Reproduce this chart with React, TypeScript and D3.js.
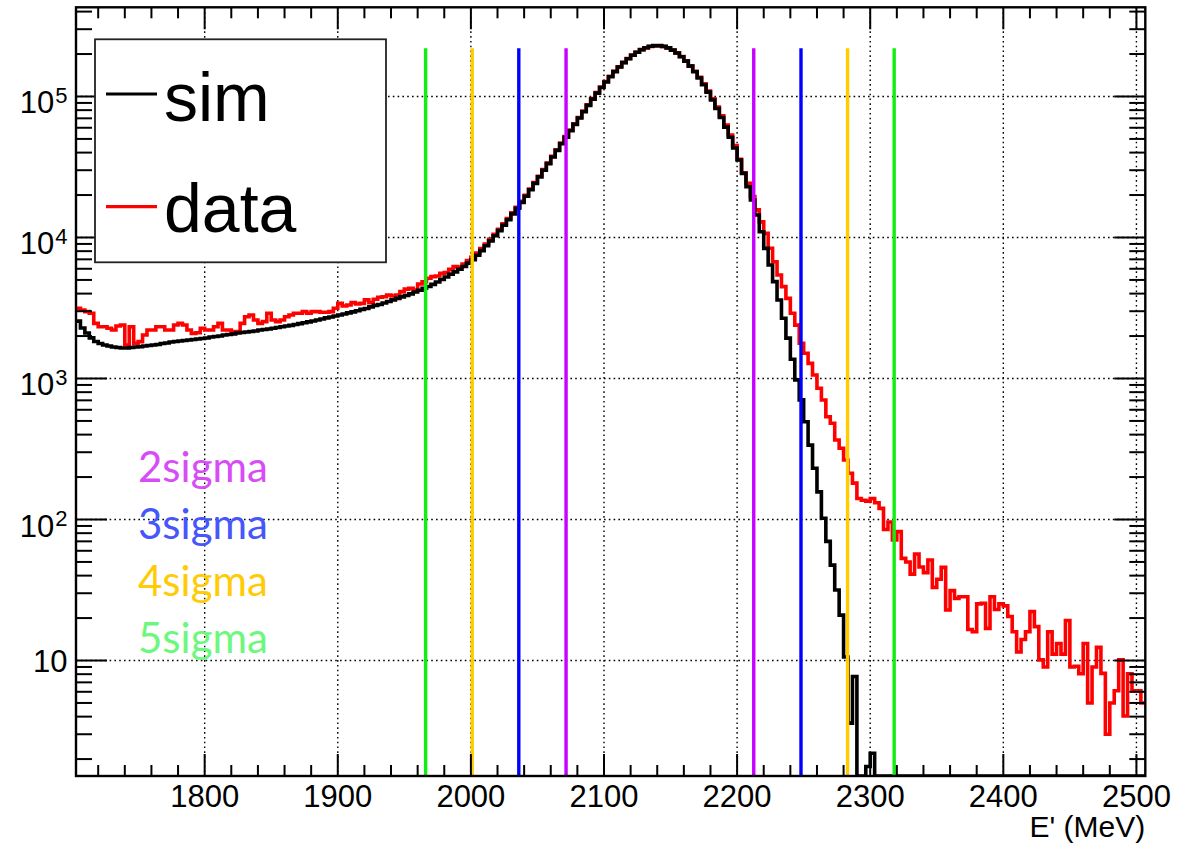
import React from 'react';
import * as d3 from 'd3';

// ---- data -------------------------------------------------------------
const X_MIN = 1703.3333;
const X_MAX = 2506.6667;
const BIN_WIDTH = 10 / 3;
const Y_MIN = 1.517;
const Y_MAX = 4.29e5;

const simValues: number[] = [
  2550, 2280, 2100, 1940, 1830, 1770, 1728, 1700, 1672, 1660,
  1645, 1645, 1660, 1672, 1680, 1700, 1715, 1728, 1743, 1770,
  1785, 1815, 1830, 1845, 1860, 1875, 1890, 1905, 1920, 1937,
  1970, 1985, 2000, 2036, 2050, 2070, 2100, 2120, 2135, 2155,
  2170, 2210, 2225, 2245, 2270, 2300, 2330, 2355, 2380, 2415,
  2450, 2485, 2520, 2560, 2600, 2645, 2690, 2730, 2775, 2820,
  2865, 2920, 2970, 3020, 3090, 3140, 3220, 3300, 3350, 3430,
  3520, 3610, 3700, 3790, 3880, 3980, 4110, 4220, 4360, 4490,
  4650, 4840, 5040, 5250, 5480, 5700, 5950, 6230, 6580, 6950,
  7480, 8070, 8730, 9460, 10280, 11190, 12220, 13370, 14660, 16110,
  17740, 19630, 21780, 24210, 26920, 29990, 33420, 37240, 41500, 46240,
  51400, 57150, 63390, 70310, 77980, 86500, 95720, 105700, 115900, 126800,
  138000, 150000, 161800, 173800, 185400, 196300, 206100, 214800, 221800, 227000,
  229600, 229600, 226500, 221300, 213300, 203200, 191400, 178200, 164100, 149600,
  135200, 121100, 107400, 94410, 82220, 70960, 60670, 51400, 43150, 35480,
  28510, 22910, 18450, 14450, 10990, 8375, 6383, 4864, 3606, 2673,
  1932, 1368, 977, 705, 494, 337, 231, 157, 102, 70,
  47.5, 31.6, 21, 10.6, 3.6, 7.7, 0, 0, 1.77, 2.2,
  0, 0, 0, 0, 0, 0, 0, 0, 0, 0,
  0, 0, 0, 0, 0, 0, 0, 0, 0, 0,
  0, 0, 0, 0, 0, 0, 0, 0, 0, 0,
  0, 0, 0, 0, 0, 0, 0, 0, 0, 0,
  0, 0, 0, 0, 0, 0, 0, 0, 0, 0,
  0, 0, 0, 0, 0, 0, 0, 0, 0, 0,
  0,
];

const dataValues: number[] = [
  3150, 3060, 2980, 2900, 2460, 2330, 2330, 2270, 2210, 2355,
  2395, 1730, 2330, 1780, 1825, 2035, 2210, 2210, 2330, 2330,
  2210, 2210, 2395, 2460, 2395, 2210, 2090, 2110, 2270, 2210,
  2210, 2330, 2460, 2210, 2210, 2150, 2150, 2460, 2740, 2820,
  2600, 2460, 2530, 2900, 2600, 2530, 2600, 2740, 2820, 2900,
  2900, 2980, 2900, 2980, 2980, 2950, 2950, 2980, 3150, 3410,
  3265, 3320, 3450, 3375, 3410, 3610, 3450, 3650, 3770, 3800,
  3910, 3850, 3910, 4130, 4300, 4360, 4245, 4680, 4860, 5140,
  5280, 5330, 5570, 5630, 5950, 6210, 6150, 6480, 6850, 7240,
  7750, 8350, 9000, 9700, 10550, 11450, 12500, 13650, 14950, 16400,
  18050, 19900, 22050, 24500, 27200, 30300, 33700, 37600, 41900, 46700,
  51900, 57700, 64000, 71000, 78700, 87300, 96500, 106500, 116800, 127700,
  139000, 151000, 162500, 174500, 186000, 196500, 206000, 214500, 221000, 226000,
  228500, 228800, 226000, 221000, 213500, 203800, 192200, 179200, 165300, 151000,
  136800, 122800, 109200, 96300, 84100, 72900, 62600, 53300, 44900, 35800,
  28800, 24200, 19500, 15700, 12900, 10700, 8380, 6730, 5420, 4480,
  3700, 2900, 2390, 1780, 1510, 1280, 1060, 852, 704, 536,
  481, 366, 320, 264, 213, 181, 141, 137, 135, 141,
  131.5, 120, 85, 96, 71.6, 82, 53, 50, 41, 57,
  46, 42, 51.6, 33, 37.7, 45.8, 22.8, 31.3, 27.6, 28.3,
  28.3, 16.6, 16, 25.2, 25.5, 16.9, 28.3, 23, 25.2, 24.4,
  20.5, 16, 11.5, 14.1, 16, 22.2, 17.4, 10.1, 9.0, 16,
  11.1, 13.2, 11.1, 19.2, 9.0, 9.1, 8.05, 13.2, 5.0, 9.0,
  12.4, 8.1, 3.0, 5.0, 6.1, 10.1, 4.04, 8.05, 6.1, 6.1,
  5.0,
];

const xMajorTicks = [1800, 1900, 2000, 2100, 2200, 2300, 2400, 2500];
const yDecades = [1, 2, 3, 4, 5];

const sigmaNames = ['2sigma', '3sigma', '4sigma', '5sigma'];
const sigmaLow = [2071.5, 2036, 2001, 1966];
const sigmaHigh = [2212.5, 2248, 2283, 2318];
const sigmaLineTop = 2.2e5;
const sigmaLineColors = ['#c800ff', '#0000ff', '#ffcc00', '#11ee11'];
const sigmaTextColors = ['#d84cf8', '#4656fb', '#ffcb05', '#6cf87c'];

const legendLabels = ['sim', 'data'];
const legendColors = ['#000000', '#ff0000'];
const axisTitle = "E' (MeV)";

// ---- component ----------------------------------------------------------
export default function App() {
  const W = 1198;
  const H = 843;
  const left = 76;
  const right = 1145.3;
  const top = 7.3;
  const bottom = 776;

  const x = d3.scaleLinear().domain([X_MIN, X_MAX]).range([left, right]);
  const y = d3.scaleLog().domain([Y_MIN, Y_MAX]).range([bottom, top]);

  const histPath = (vals: number[]) => {
    const pts: [number, number][] = vals.map((v, i) => [X_MIN + i * BIN_WIDTH, Math.max(v, Y_MIN)]);
    pts.push([X_MIN + vals.length * BIN_WIDTH, Math.max(vals[vals.length - 1], Y_MIN)]);
    return d3
      .line<[number, number]>()
      .x((d) => x(d[0]))
      .y((d) => y(d[1]))
      .curve(d3.curveStepAfter)(pts) as string;
  };

  const xMinor = d3.range(1720, X_MAX, 20).filter((v) => v % 100 !== 0);
  const yMinor: number[] = [];
  for (let d = 0; d <= 5; d++) {
    for (let m = 2; m <= 9; m++) {
      const v = m * Math.pow(10, d);
      if (v > Y_MIN && v < Y_MAX) yMinor.push(v);
    }
  }

  const font = "'Liberation Sans', Arial, Helvetica, sans-serif";
  const gridStyle = { stroke: '#000', strokeWidth: 1.4, strokeDasharray: '1.6,3.2' };
  const tickW = 2;

  return (
    <svg
      width={W}
      height={H}
      style={{ position: 'absolute', left: 0, top: 0, background: '#fff' }}
      fontFamily={font}
    >
      <defs>
        <clipPath id="frameClip">
          <rect x={left} y={top} width={right - left} height={bottom - top} />
        </clipPath>
      </defs>
      <rect x={0} y={0} width={W} height={H} fill="#fff" />

      {/* grid */}
      <g>
        {xMajorTicks.map((t) => (
          <line key={'gx' + t} x1={x(t)} x2={x(t)} y1={top} y2={bottom} {...gridStyle} />
        ))}
        {yDecades.map((d) => (
          <line key={'gy' + d} x1={left} x2={right} y1={y(Math.pow(10, d))} y2={y(Math.pow(10, d))} {...gridStyle} />
        ))}
      </g>

      {/* histograms */}
      <g clipPath="url(#frameClip)">
        <path d={histPath(dataValues)} fill="none" stroke="#ff0000" strokeWidth={3.6} strokeLinejoin="miter" />
        <path d={histPath(simValues)} fill="none" stroke="#000000" strokeWidth={3.6} strokeLinejoin="miter" />
      </g>

      {/* sigma lines */}
      <g>
        {sigmaNames.map((n, i) => (
          <g key={'sl' + n}>
            <line x1={x(sigmaLow[i])} x2={x(sigmaLow[i])} y1={y(Y_MIN)} y2={y(sigmaLineTop)} stroke={sigmaLineColors[i]} strokeWidth={3.4} />
            <line x1={x(sigmaHigh[i])} x2={x(sigmaHigh[i])} y1={y(Y_MIN)} y2={y(sigmaLineTop)} stroke={sigmaLineColors[i]} strokeWidth={3.4} />
          </g>
        ))}
      </g>

      {/* sigma labels */}
      <g fontFamily="Lato, 'Open Sans', sans-serif" fontSize={42}>
        {sigmaNames.map((n, i) => (
          <text key={'st' + n} x={138} y={482 + i * 57} fill={sigmaTextColors[i]}>
            {n}
          </text>
        ))}
      </g>

      {/* ticks */}
      <g stroke="#000" strokeWidth={tickW}>
        {xMajorTicks.map((t) => (
          <g key={'xt' + t}>
            <line x1={x(t)} x2={x(t)} y1={bottom} y2={bottom - 22} />
            <line x1={x(t)} x2={x(t)} y1={top} y2={top + 22} />
          </g>
        ))}
        {xMinor.map((t) => (
          <g key={'xm' + t}>
            <line x1={x(t)} x2={x(t)} y1={bottom} y2={bottom - 11} />
            <line x1={x(t)} x2={x(t)} y1={top} y2={top + 11} />
          </g>
        ))}
        {yDecades.map((d) => (
          <g key={'yt' + d}>
            <line x1={left} x2={left + 31} y1={y(Math.pow(10, d))} y2={y(Math.pow(10, d))} />
            <line x1={right} x2={right - 31} y1={y(Math.pow(10, d))} y2={y(Math.pow(10, d))} />
          </g>
        ))}
        {yMinor.map((v) => (
          <g key={'ym' + v}>
            <line x1={left} x2={left + 16} y1={y(v)} y2={y(v)} />
            <line x1={right} x2={right - 16} y1={y(v)} y2={y(v)} />
          </g>
        ))}
      </g>

      {/* frame */}
      <rect x={left} y={top} width={right - left} height={bottom - top} fill="none" stroke="#000" strokeWidth={2.4} />

      {/* x labels */}
      <g fontSize={31} fill="#000">
        {xMajorTicks.map((t) => (
          <text key={'xl' + t} x={x(t)} y={807} textAnchor="middle">
            {t}
          </text>
        ))}
      </g>
      <text x={right} y={837} textAnchor="end" fontSize={30} fill="#000">
        {axisTitle}
      </text>

      {/* y labels */}
      <g fontSize={31} fill="#000">
        {yDecades.map((d) =>
          d === 1 ? (
            <text key={'yl' + d} x={67.5} y={y(10) + 11.5} textAnchor="end">
              10
            </text>
          ) : (
            <text key={'yl' + d} x={67.5} y={y(Math.pow(10, d)) + 17} textAnchor="end">
              10
              <tspan dx={1} dy={-10.5} fontSize={22}>
                {d}
              </tspan>
            </text>
          )
        )}
      </g>

      {/* legend */}
      <g>
        <rect x={95} y={39.3} width={291} height={223} fill="#fff" stroke="#222" strokeWidth={1.8} />
        {legendLabels.map((lab, i) => (
          <g key={'lg' + lab}>
            <line x1={106} x2={157} y1={94 + i * 112.7} y2={94 + i * 112.7} stroke={legendColors[i]} strokeWidth={3.2} />
            <text x={164} y={120.5 + i * 111} fontSize={68} fill="#000">
              {lab}
            </text>
          </g>
        ))}
      </g>
    </svg>
  );
}
